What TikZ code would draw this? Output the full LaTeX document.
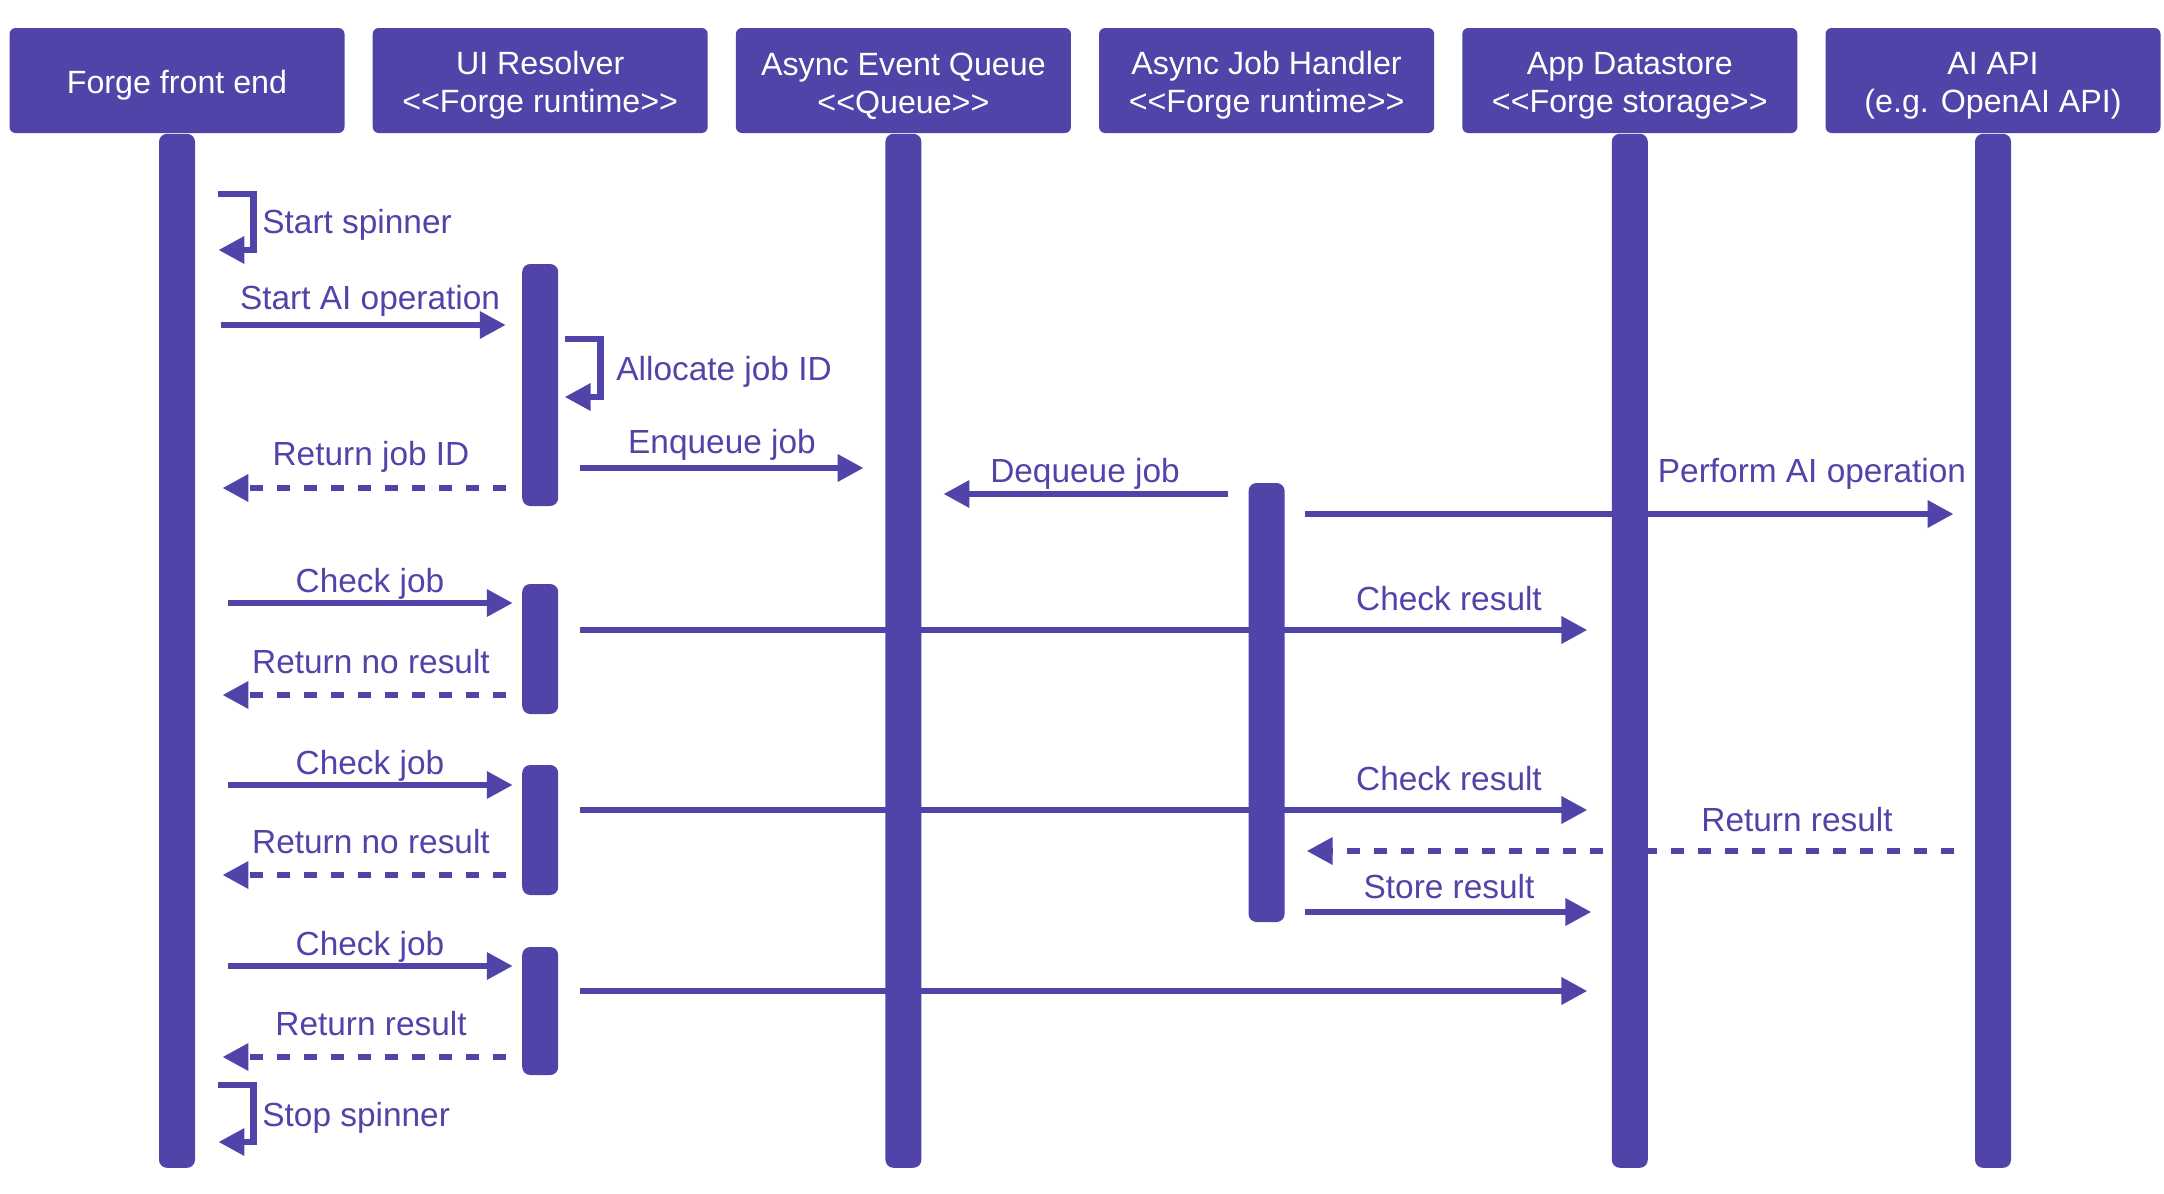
\documentclass[tikz,border=0pt]{standalone}
\usepackage{fontspec}
\setmainfont{Liberation Sans}[Ligatures=TeXOff]
\usetikzlibrary{arrows.meta, positioning}

\definecolor{forgeviolet}{RGB}{81,68,168}

\tikzset{
  actor/.style={fill=forgeviolet, rounded corners=3pt, text=white, align=center,
                minimum width=167.5pt, minimum height=52.5pt, inner sep=0pt,
                font=\fontsize{16.1}{19}\selectfont},
  bar/.style={fill=forgeviolet, rounded corners=4pt, minimum width=18pt, inner sep=0pt},
  msg/.style={draw=forgeviolet, line width=3.2pt, -{Triangle[length=13pt,width=13pt]}},
  reply/.style={msg, dash pattern=on 6.5pt off 7pt},
  lbl/.style={anchor=base, text=forgeviolet, inner sep=0pt, font=\fontsize{16.7}{20}\selectfont},
  selflbl/.style={lbl, anchor=base west}
}

\begin{document}
\begin{tikzpicture}[x=0.5pt, y=-0.5pt]
\useasboundingbox (0,0) rectangle (2164,1194);

\node[actor] (ffe) at (177,80.5) {\rule{0pt}{16.3pt}Forge front end};
\node[actor] (uir) at (540.2,80.5) {\rule{0pt}{16.6pt}UI Resolver\\<<Forge runtime>>};
\node[actor] (aeq) at (903.4,80.5) {\rule{0pt}{16.6pt}Async Event Queue\\<<Queue>>};
\node[actor] (ajh) at (1266.6,80.5) {\rule{0pt}{16.6pt}Async Job Handler\\<<Forge runtime>>};
\node[actor] (ads) at (1629.8,80.5) {\rule{0pt}{16.6pt}App Datastore\\<<Forge storage>>};
\node[actor] (aia) at (1993,80.5) {\rule{0pt}{16.6pt}AI API\\(e.g. OpenAI API)};

\node[bar, minimum height=517pt, below=0pt of ffe] (ffeL) {};
\node[bar, minimum height=517pt, below=0pt of aeq] (aeqL) {};
\node[bar, minimum height=517pt, below=0pt of ads] (adsL) {};
\node[bar, minimum height=517pt, below=0pt of aia] (aiaL) {};

\node[bar, minimum height=121pt] (uirA1) at (uir |- 0,385) {};
\node[bar, minimum height=65pt] (uirA2) at (uir |- 0,649) {};
\node[bar, minimum height=65pt] (uirA3) at (uir |- 0,830) {};
\node[bar, minimum height=64pt] (uirA4) at (uir |- 0,1011) {};
\node[bar, minimum height=219.5pt] (ajhA) at (ajh |- 0,702.5) {};

% start
\draw[msg] ([xshift=11.5pt]ffeL.east |- 0,194) -| ([xshift=29pt]ffeL.east |- 0,250) -- ([xshift=11.5pt]ffeL.east |- 0,250);
\node[selflbl] (startsp) at (262,233) {Start spinner};

\draw[msg] ([xshift=13pt]ffeL.east |- 0,325) -- ([xshift=-8pt]uirA1.west |- 0,325);
\node[lbl] (startop) at (370,309) {Start AI operation};

\draw[msg] ([xshift=3pt]uirA1.east |- 0,339) -| ([xshift=21pt]uirA1.east |- 0,397) -- ([xshift=3pt]uirA1.east |- 0,397);
\node[selflbl] (alloc) at (616,380) {Allocate job ID};

\draw[reply] ([xshift=-8pt]uirA1.west |- 0,488) -- ([xshift=13.5pt]ffeL.east |- 0,488);
\node[lbl] (retid) at (371,465) {Return job ID};

\draw[msg] ([xshift=10.5pt]uirA1.east |- 0,468) -- ([xshift=-10.7pt]aeqL.west |- 0,468);
\node[lbl] (enq) at (722,453) {Enqueue job};

\draw[msg] ([xshift=-10.3pt]ajhA.west |- 0,494) -- ([xshift=10.8pt]aeqL.east |- 0,494);
\node[lbl] (deq) at (1085,482) {Dequeue job};

\draw[msg] ([xshift=10.2pt]ajhA.east |- 0,514) -- ([xshift=-10.5pt]aiaL.west |- 0,514);
\node[lbl] (perf) at (1812,482) {Perform AI operation};

% polling
\draw[msg] ([xshift=16.5pt]ffeL.east |- 0,603) -- ([xshift=-4.5pt]uirA2.west |- 0,603);
\node[lbl] (chk1) at (370,592) {Check job};

\draw[msg] ([xshift=10.5pt]uirA2.east |- 0,630) -- ([xshift=-12pt]adsL.west |- 0,630);
\node[lbl] (res1) at (1449,610) {Check result};

\draw[reply] ([xshift=-8pt]uirA2.west |- 0,695) -- ([xshift=13.5pt]ffeL.east |- 0,695);
\node[lbl] (none1) at (371,673) {Return no result};

\draw[msg] ([xshift=16.5pt]ffeL.east |- 0,785) -- ([xshift=-4.5pt]uirA3.west |- 0,785);
\node[lbl] (chk2) at (370,774) {Check job};

\draw[msg] ([xshift=10.5pt]uirA3.east |- 0,810) -- ([xshift=-12pt]adsL.west |- 0,810);
\node[lbl] (res2) at (1449,790) {Check result};

\draw[reply] ([xshift=-10.5pt]aiaL.west |- 0,851) -- ([xshift=10.8pt]ajhA.east |- 0,851);
\node[lbl] (airet) at (1797,831) {Return result};

\draw[reply] ([xshift=-8pt]uirA3.west |- 0,875) -- ([xshift=13.5pt]ffeL.east |- 0,875);
\node[lbl] (none2) at (371,853) {Return no result};

\draw[msg] ([xshift=10.2pt]ajhA.east |- 0,912) -- ([xshift=-10pt]adsL.west |- 0,912);
\node[lbl] (store) at (1449,898) {Store result};

\draw[msg] ([xshift=16.5pt]ffeL.east |- 0,966) -- ([xshift=-4.5pt]uirA4.west |- 0,966);
\node[lbl] (chk3) at (370,955) {Check job};

\draw[msg] ([xshift=10.5pt]uirA4.east |- 0,991) -- ([xshift=-12pt]adsL.west |- 0,991);

\draw[reply] ([xshift=-8pt]uirA4.west |- 0,1057) -- ([xshift=13.5pt]ffeL.east |- 0,1057);
\node[lbl] (ret) at (371,1035) {Return result};

% stop
\draw[msg] ([xshift=11.5pt]ffeL.east |- 0,1085) -| ([xshift=29pt]ffeL.east |- 0,1142) -- ([xshift=11.5pt]ffeL.east |- 0,1142);
\node[selflbl] (stopsp) at (262,1126) {Stop spinner};

\end{tikzpicture}
\end{document}
